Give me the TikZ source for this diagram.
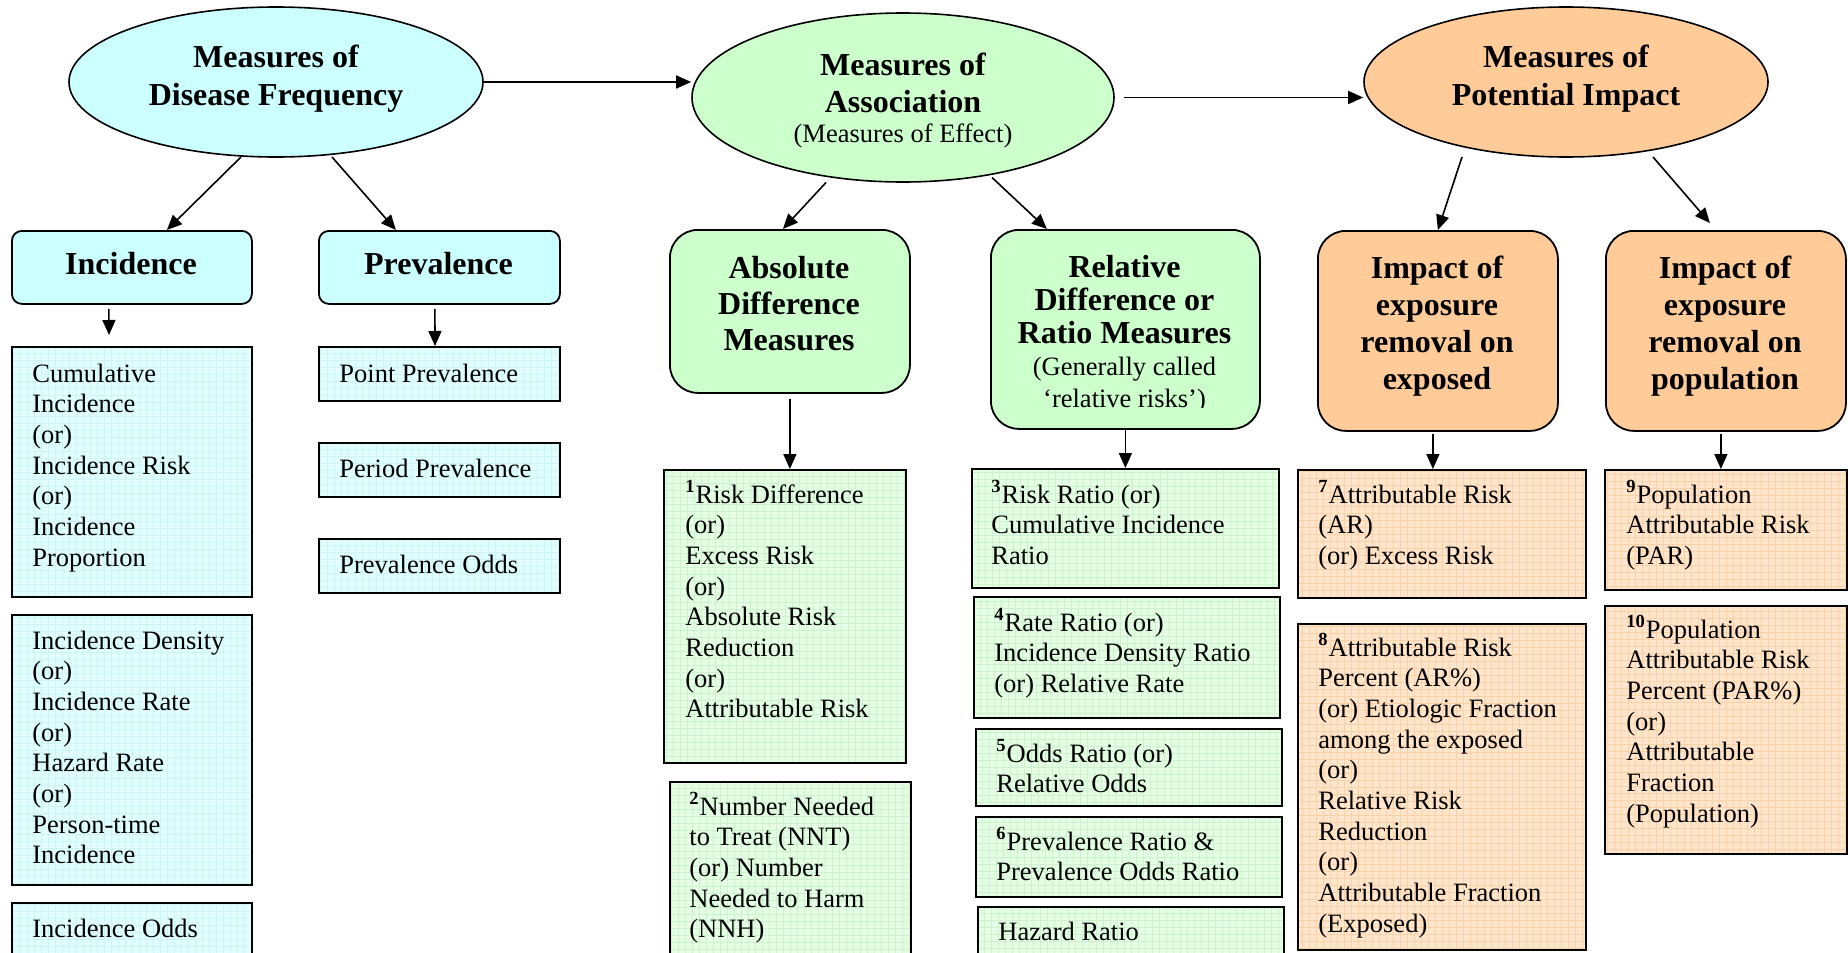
\documentclass[tikz,border=0pt]{standalone}
\usepackage{fontspec}
\setmainfont{Liberation Serif}
\usetikzlibrary{shapes.geometric,arrows.meta}
\definecolor{cyanF}{HTML}{CCFFFF}
\definecolor{cyanL}{HTML}{E2FFFF}
\definecolor{cyanG}{HTML}{CDF4F7}
\definecolor{greenF}{HTML}{CCFFCC}
\definecolor{greenL}{HTML}{E4FFE4}
\definecolor{greenG}{HTML}{CEF2CE}
\definecolor{orangeF}{HTML}{FFCC99}
\definecolor{orangeL}{HTML}{FFE5CC}
\definecolor{orangeG}{HTML}{FAD2A8}
\newcommand{\bx}[6]{\pgfmathsetmacro{\mybw}{(#5-#3)/2}\pgfmathsetmacro{\mybh}{(#6-#4)/2}\node[#2,anchor=north west,minimum width=\mybw pt,minimum height=\mybh pt,inner sep=0pt] (#1) at (#3,#4) {};}
\newcommand{\rtext}[1]{\parbox[t]{160pt}{\fontsize{13.25}{15.35}\selectfont\raggedright #1}}
\newcommand{\htext}[2]{\parbox[t]{150pt}{\centering\fontsize{16}{#1}\selectfont\bfseries #2}}
\newcommand{\sps}[1]{\textsuperscript{\textbf{#1}}}
\tikzset{
  ell/.style={ellipse, draw=black, line width=0.8pt, fill=#1, inner sep=0pt},
  rbox/.style 2 args={rectangle, draw=black, line width=0.9pt, fill=#1, rounded corners=#2},
  gbox/.style 2 args={rectangle, draw=black, line width=1pt, fill=#1,
    path picture={\draw[#2, line width=0.25pt, step=3.5pt] (path picture bounding box.south west) grid (path picture bounding box.north east);}},
  arr/.style={-{Triangle[length=7.5pt,width=6.5pt]}, line width=0.8pt},
  rt/.style={inner sep=0pt, anchor=base west},
  ht/.style={inner sep=0pt, anchor=base}
}
\begin{document}
\begin{tikzpicture}[x=0.5pt,y=-0.5pt]
\useasboundingbox (0,0) rectangle (1848,953);
\clip (0,0) rectangle (1848,953);
\fill[white] (0,0) rectangle (1848,953);

% ---------- ellipses ----------
\node[ell=cyanF, minimum width=207pt, minimum height=75pt] (e1) at (276,82) {};
\node[ell=greenF, minimum width=211pt, minimum height=84.5pt] (e2) at (903,97.5) {};
\node[ell=orangeF, minimum width=202pt, minimum height=75pt] (e3) at (1566,82) {};
\node[ht] (te1) at (276,68) {\htext{19}{Measures of\\Disease Frequency}};
\node[ht] (te2) at (903,75) {\parbox[t]{200pt}{\centering{\fontsize{16}{18.5}\selectfont\bfseries Measures of\\Association\par}{\fontsize{13.25}{15}\selectfont (Measures of Effect)\par}}};
\node[ht] (te3) at (1566,68) {\htext{18.5}{Measures of\\Potential Impact}};

% ---------- disease frequency (cyan) ----------
\bx{inc}{rbox={cyanF}{5pt}}{11}{230}{251}{303}
\bx{prev}{rbox={cyanF}{5pt}}{318}{230}{559}{303}
\node[ht] (tinc) at (131,274) {\htext{18}{Incidence}};
\node[ht] (tprev) at (438.5,274) {\htext{18}{Prevalence}};

\bx{cum}{gbox={cyanL}{cyanG}}{11}{346}{251}{596}
\bx{idens}{gbox={cyanL}{cyanG}}{11}{614}{251}{884}
\bx{iodds}{gbox={cyanL}{cyanG}}{11}{902}{251}{975}
\bx{pp}{gbox={cyanL}{cyanG}}{318}{346}{559}{400}
\bx{perp}{gbox={cyanL}{cyanG}}{318}{442}{559}{496}
\bx{podds}{gbox={cyanL}{cyanG}}{318}{538}{559}{592}

\node[rt] (tcum) at (32,382) {\rtext{Cumulative\\Incidence\\(or)\\Incidence Risk\\(or)\\Incidence\\Proportion}};
\node[rt] (tidens) at (32,649) {\rtext{Incidence Density\\(or)\\Incidence Rate\\(or)\\Hazard Rate\\(or)\\Person-time\\Incidence}};
\node[rt] (tiodds) at (32,937) {\rtext{Incidence Odds}};
\node[rt] (tpp) at (339,382) {\rtext{Point Prevalence}};
\node[rt] (tperp) at (339,477) {\rtext{Period Prevalence}};
\node[rt] (tpodds) at (339,573) {\rtext{Prevalence Odds}};

% ---------- association (green) ----------
\bx{abs}{rbox={greenF}{14pt}}{669}{229}{909}{392}
\bx{rel}{rbox={greenF}{14pt}}{990}{229}{1259}{428}
\node[ht] (tabs) at (789,278) {\htext{18}{Absolute\\Difference\\Measures}};
\begin{scope}
\clip (990,229) rectangle (1259,407);
\node[ht] (trel) at (1124.5,277) {\parbox[t]{135pt}{\centering{\fontsize{16}{16.5}\selectfont\bfseries Relative\\Difference or\\Ratio Measures\par}{\fontsize{13.25}{16}\selectfont (Generally called\\‘relative risks’)\par}}};
\end{scope}

\bx{rd}{gbox={greenL}{greenG}}{663}{469}{905}{762}
\bx{nnt}{gbox={greenL}{greenG}}{669}{781}{910}{975}
\bx{rr}{gbox={greenL}{greenG}}{971}{468}{1278}{587}
\bx{rate}{gbox={greenL}{greenG}}{973}{596}{1279}{717}
\bx{odds}{gbox={greenL}{greenG}}{975}{728}{1281}{805}
\bx{prevr}{gbox={greenL}{greenG}}{975}{816}{1281}{896}
\bx{haz}{gbox={greenL}{greenG}}{977}{906}{1283}{975}

\node[rt] (trd) at (685,503) {\rtext{\sps{1}Risk Difference\\(or)\\Excess Risk\\(or)\\Absolute Risk\\Reduction\\(or)\\Attributable Risk}};
\node[rt] (tnnt) at (689,815) {\rtext{\sps{2}Number Needed\\to Treat (NNT)\\(or) Number\\Needed to Harm\\(NNH)}};
\node[rt] (trr) at (991,503) {\rtext{\sps{3}Risk Ratio (or)\\Cumulative Incidence\\Ratio}};
\node[rt] (trate) at (994,631) {\rtext{\sps{4}Rate Ratio (or)\\Incidence Density Ratio\\(or) Relative Rate}};
\node[rt] (todds) at (996,762) {\rtext{\sps{5}Odds Ratio (or)\\Relative Odds}};
\node[rt] (tprevr) at (996,850) {\rtext{\sps{6}Prevalence Ratio \&\\Prevalence Odds Ratio}};
\node[rt] (thaz) at (998,940) {\rtext{Hazard Ratio}};

% ---------- potential impact (orange) ----------
\bx{exp}{rbox={orangeF}{14pt}}{1317}{230}{1557}{430}
\bx{pop}{rbox={orangeF}{14pt}}{1605}{230}{1845}{430}
\node[ht] (texp) at (1437,278) {\htext{18.5}{Impact of\\exposure\\removal on\\exposed}};
\node[ht] (tpop) at (1725,278) {\htext{18.5}{Impact of\\exposure\\removal on\\population}};

\bx{ar}{gbox={orangeL}{orangeG}}{1297}{469}{1585}{597}
\bx{arp}{gbox={orangeL}{orangeG}}{1297}{623}{1585}{949}
\bx{par}{gbox={orangeL}{orangeG}}{1604}{469}{1846}{589}
\bx{parp}{gbox={orangeL}{orangeG}}{1604}{605}{1846}{853}

\node[rt] (tar) at (1318,503) {\rtext{\sps{7}Attributable Risk\\(AR)\\(or) Excess Risk}};
\node[rt] (tarp) at (1318,656) {\rtext{\sps{8}Attributable Risk\\Percent (AR\%)\\(or) Etiologic Fraction\\among the exposed\\(or)\\Relative Risk\\Reduction\\(or)\\Attributable Fraction\\(Exposed)}};
\node[rt] (tpar) at (1626,503) {\rtext{\sps{9}Population\\Attributable Risk\\(PAR)}};
\node[rt] (tparp) at (1626,638) {\rtext{\sps{10}Population\\Attributable Risk\\Percent (PAR\%)\\(or)\\Attributable\\Fraction\\(Population)}};

% ---------- connectors ----------
\draw[arr] (e1.east) -- (e1.east -| e2.west);
\draw[arr] ([xshift=4.5pt]e2.east) -- (e2.east -| e3.west);

\draw[arr] ([xshift=-17.5pt,yshift=-37.5pt]e1.center) -- ([xshift=17.5pt]inc.north);
\draw[arr] ([xshift=28pt,yshift=-37.5pt]e1.center) -- ([xshift=-21.75pt]prev.north);
\draw[arr] ([xshift=-11.5pt,yshift=-2pt]inc.south) -- ([xshift=-11.5pt,yshift=5.5pt]cum.north);
\draw[arr] ([xshift=-2.25pt,yshift=-2pt]prev.south) -- ([xshift=-2.25pt]pp.north);

\draw[arr] ([xshift=-38.5pt,yshift=-42.5pt]e2.center) -- ([xshift=-3.5pt]abs.north);
\draw[arr] ([xshift=44.5pt,yshift=-40pt]e2.center) -- ([xshift=-39.25pt]rel.north);
\draw[arr] ([yshift=-2.5pt]abs.south) -- (abs.south |- rd.north);
\draw[arr] (rel.south) -- (rel.south |- rr.north);

\draw[arr] ([xshift=-52pt,yshift=-37.5pt]e3.center) -- (exp.north);
\draw[arr] ([xshift=43.5pt,yshift=-37.5pt]e3.center) -- ([xshift=-8pt,yshift=3.5pt]pop.north);
\draw[arr] ([xshift=-2.5pt,yshift=-1pt]exp.south) -- ([xshift=-2.5pt]exp.south |- ar.north);
\draw[arr] ([xshift=-2.5pt,yshift=-1pt]pop.south) -- ([xshift=-2.5pt]pop.south |- par.north);
\end{tikzpicture}
\end{document}
